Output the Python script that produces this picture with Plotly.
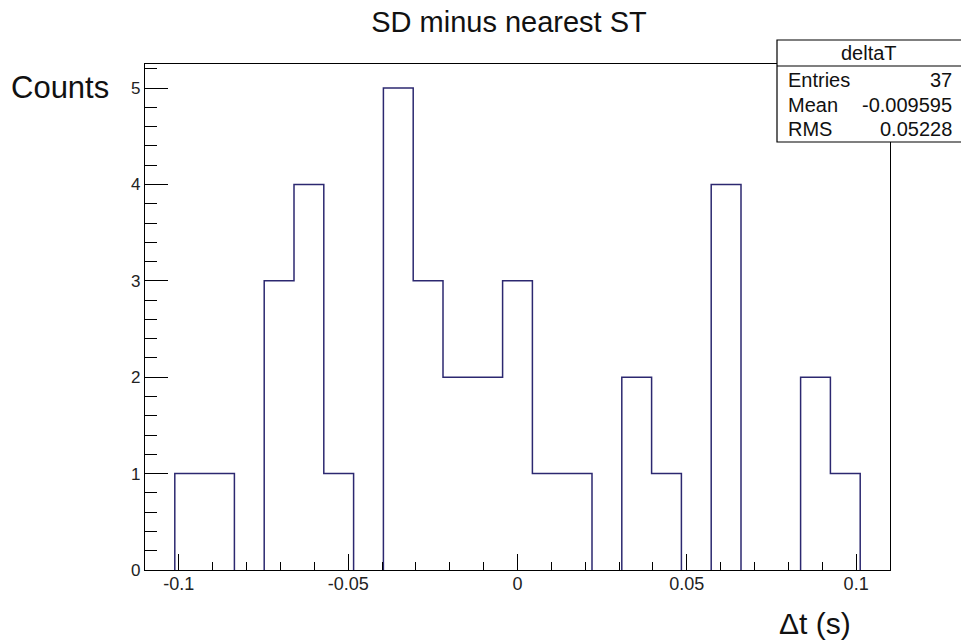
import plotly.graph_objects as go

# Histogram definition: 25 equal bins on [-0.11, 0.11]
x_min = -0.11
x_max = 0.11
n_bins = 25
counts = [0, 1, 1, 0, 3, 4, 1, 0, 5, 3, 2, 2, 3, 1, 1, 0, 2, 1, 0, 4, 0, 0, 2, 1, 0]

x_tick_vals = [-0.1, -0.05, 0.0, 0.05, 0.1]
x_tick_text = ["-0.1", "-0.05", "0", "0.05", "0.1"]
y_tick_vals = [0, 1, 2, 3, 4, 5]
y_tick_text = ["0", "1", "2", "3", "4", "5"]

stats_name = "deltaT"
stats_labels = ["Entries", "Mean", "RMS"]
stats_values = ["37", "-0.009595", "0.05228"]

title_text = "SD minus nearest ST"
x_title = "Δt (s)"
y_title = "Counts"

# bin edges and the histogram outline; runs along zero are left to the axis line
width = (x_max - x_min) / n_bins
edges = [x_min + i * width for i in range(n_bins + 1)]
step_x, step_y = [], []
prev = 0
for i, c in enumerate(counts):
    if c == 0:
        if prev != 0:
            step_x += [edges[i]]
            step_y += [0]
        step_x += [None]
        step_y += [None]
    else:
        if prev == 0:
            step_x += [edges[i]]
            step_y += [0]
        step_x += [edges[i], edges[i + 1]]
        step_y += [c, c]
    prev = c
if prev != 0:
    step_x += [edges[-1]]
    step_y += [0]

W, H = 961, 643
L, R, T, B = 145, 890, 64, 570
FONT = "Liberation Sans, Arial, Helvetica, sans-serif"


def px_x(p):
    return (p - L) / (R - L)


def px_y(p):
    return (B - p) / (B - T)


fig = go.Figure()
fig.add_trace(go.Scatter(
    x=step_x, y=step_y, mode="lines",
    line=dict(color="#2c2870", width=1.5),
    connectgaps=False, hoverinfo="skip", showlegend=False,
))

fig.update_layout(
    width=W, height=H,
    margin=dict(l=L, r=W - R, t=T, b=H - B, pad=0),
    paper_bgcolor="white", plot_bgcolor="white",
    font=dict(family=FONT, color="#111"),
    showlegend=False,
    title=dict(text=title_text, x=509 / W, xanchor="center",
               y=1 - 22 / H, yanchor="middle",
               font=dict(size=29, family=FONT, color="#111")),
)

fig.update_xaxes(
    range=[x_min, x_max], showgrid=False, zeroline=False,
    showline=True, linecolor="black", linewidth=1.4, mirror=True,
    layer="above traces",
    ticks="inside", ticklen=16, tickcolor="black", tickwidth=1,
    tickvals=x_tick_vals, ticktext=x_tick_text,
    tickfont=dict(size=18, family=FONT, color="#222"),
    ticklabelstandoff=-3,
    minor=dict(ticks="inside", ticklen=8, dtick=0.01, tick0=0,
               tickcolor="black", tickwidth=1, showgrid=False),
)
fig.update_yaxes(
    range=[0, 5.25], showgrid=False, zeroline=False,
    showline=True, linecolor="black", linewidth=1.4, mirror=True,
    layer="above traces",
    ticks="inside", ticklen=23, tickcolor="black", tickwidth=1,
    tickvals=y_tick_vals, ticktext=y_tick_text,
    tickfont=dict(size=17, family=FONT, color="#222"),
    minor=dict(ticks="inside", ticklen=12, dtick=0.2, tick0=0,
               tickcolor="black", tickwidth=1, showgrid=False),
)

# axis titles
fig.add_annotation(text=y_title, xref="paper", yref="paper",
                   x=px_x(9), y=px_y(88), xanchor="left", yanchor="middle",
                   showarrow=False, font=dict(size=31, family=FONT, color="#111"))
fig.add_annotation(text=x_title, xref="paper", yref="paper",
                   x=px_x(853), y=px_y(623), xanchor="right", yanchor="middle",
                   showarrow=False, font=dict(size=30, family=FONT, color="#111"))

# statistics box
box_l, box_r, box_t, box_sep, box_b = 777, 966, 40, 66, 142
fig.add_shape(type="rect", xref="paper", yref="paper",
              x0=px_x(box_l), x1=px_x(box_r), y0=px_y(box_b), y1=px_y(box_t),
              line=dict(color="black", width=1.2), fillcolor="white", layer="above")
fig.add_shape(type="line", xref="paper", yref="paper",
              x0=px_x(box_l), x1=px_x(box_r), y0=px_y(box_sep), y1=px_y(box_sep),
              line=dict(color="black", width=1.2), layer="above")
fig.add_annotation(text=stats_name, xref="paper", yref="paper",
                   x=px_x(869), y=px_y(53), xanchor="center", yanchor="middle",
                   showarrow=False, font=dict(size=20, family=FONT, color="#111"))
row_y = [80, 105, 129]
for lab, val, ry in zip(stats_labels, stats_values, row_y):
    fig.add_annotation(text=lab, xref="paper", yref="paper",
                       x=px_x(786), y=px_y(ry), xanchor="left", yanchor="middle",
                       showarrow=False, font=dict(size=20, family=FONT, color="#111"))
    fig.add_annotation(text=val, xref="paper", yref="paper",
                       x=px_x(954), y=px_y(ry), xanchor="right", yanchor="middle",
                       showarrow=False, font=dict(size=20, family=FONT, color="#111"))

fig.write_html("out.html")
